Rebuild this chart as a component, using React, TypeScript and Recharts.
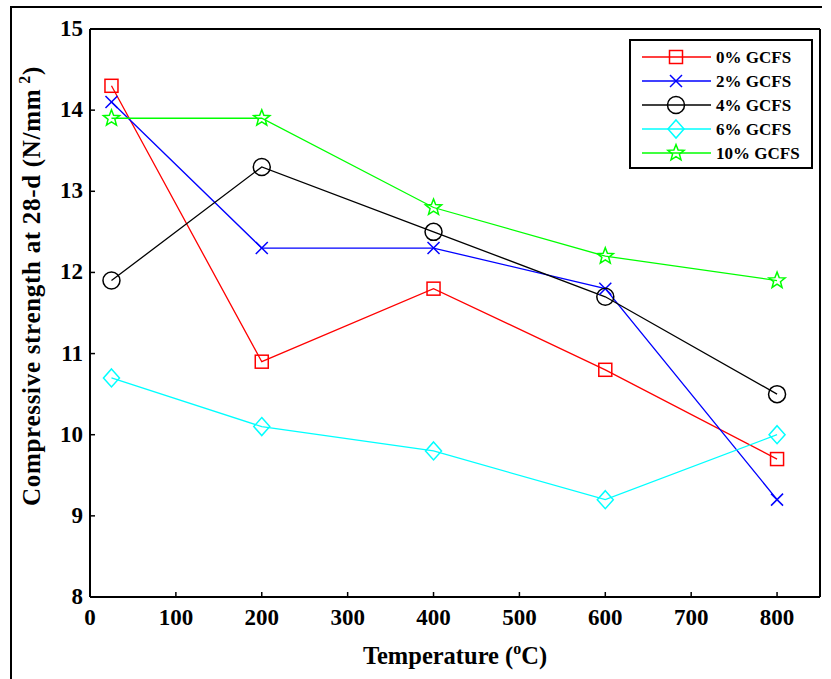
import React from "react";
import {
  LineChart,
  Line,
  XAxis,
  YAxis,
  Legend,
} from "recharts";

const temperatures = [25, 200, 400, 600, 800];
const gcfs0 = [14.3, 10.9, 11.8, 10.8, 9.7];
const gcfs2 = [14.1, 12.3, 12.3, 11.8, 9.2];
const gcfs4 = [11.9, 13.3, 12.5, 11.7, 10.5];
const gcfs6 = [10.7, 10.1, 9.8, 9.2, 10.0];
const gcfs10 = [13.9, 13.9, 12.8, 12.2, 11.9];

const xTicks = [0, 100, 200, 300, 400, 500, 600, 700, 800];
const yTicks = [8, 9, 10, 11, 12, 13, 14, 15];

const FONT = "Liberation Serif";

type MarkerType = "square" | "x" | "circle" | "diamond" | "star";

interface SeriesDef {
  key: string;
  name: string;
  color: string;
  marker: MarkerType;
  values: number[];
}

const SERIES: SeriesDef[] = [
  { key: "s0", name: "0% GCFS", color: "#FF0000", marker: "square", values: gcfs0 },
  { key: "s2", name: "2% GCFS", color: "#0000FF", marker: "x", values: gcfs2 },
  { key: "s4", name: "4% GCFS", color: "#000000", marker: "circle", values: gcfs4 },
  { key: "s6", name: "6% GCFS", color: "#00FFFF", marker: "diamond", values: gcfs6 },
  { key: "s10", name: "10% GCFS", color: "#00FF00", marker: "star", values: gcfs10 },
];

const data = temperatures.map((t, i) => {
  const row: Record<string, number> = { t };
  SERIES.forEach((s) => {
    row[s.key] = s.values[i];
  });
  return row;
});

function starPoints(cx: number, cy: number, ro: number, ri: number) {
  const pts: string[] = [];
  for (let i = 0; i < 10; i++) {
    const r = i % 2 === 0 ? ro : ri;
    const a = -Math.PI / 2 + (i * Math.PI) / 5;
    pts.push(`${cx + r * Math.cos(a)},${cy + r * Math.sin(a)}`);
  }
  return pts.join(" ");
}

function Marker({ type, cx, cy, color }: { type: MarkerType; cx: number; cy: number; color: string }) {
  const common = { stroke: color, fill: "none", strokeWidth: 1.5 };
  switch (type) {
    case "square":
      return <rect x={cx - 6.5} y={cy - 6.5} width={13} height={13} {...common} />;
    case "x":
      return (
        <g {...common}>
          <line x1={cx - 6} y1={cy - 6} x2={cx + 6} y2={cy + 6} />
          <line x1={cx - 6} y1={cy + 6} x2={cx + 6} y2={cy - 6} />
        </g>
      );
    case "circle":
      return <circle cx={cx} cy={cy} r={8.5} {...common} />;
    case "diamond":
      return (
        <polygon
          points={`${cx},${cy - 9} ${cx + 8},${cy} ${cx},${cy + 9} ${cx - 8},${cy}`}
          {...common}
        />
      );
    case "star":
      return <polygon points={starPoints(cx, cy, 8.5, 3.6)} {...common} />;
  }
  return null;
}

const textStyle: React.CSSProperties = { fontFamily: FONT, fontWeight: "bold" };

function LegendBox() {
  return (
    <svg width={184} height={130} style={{ display: "block" }}>
      <rect x={1} y={1} width={182} height={128} fill="#fff" stroke="#000" strokeWidth={2} />
      {SERIES.map((s, i) => {
        const y = 18 + i * 24;
        return (
          <g key={s.key}>
            <line x1={13} y1={y} x2={82} y2={y} stroke={s.color} strokeWidth={1.3} />
            <Marker type={s.marker} cx={47} cy={y} color={s.color} />
            <text x={87} y={y + 6} style={{ ...textStyle, fontSize: 17 }} fill="#000">
              {s.name}
            </text>
          </g>
        );
      })}
    </svg>
  );
}

// x tick label, hanging under the axis
function XTick({ x, y, payload }: any) {
  return (
    <text
      x={x}
      y={y + 16}
      textAnchor="middle"
      style={{ ...textStyle, fontSize: 23 }}
      fill="#000"
    >
      {payload.value}
    </text>
  );
}

function YTick({ x, y, payload }: any) {
  return (
    <text
      x={x}
      y={y + 7}
      textAnchor="end"
      style={{ ...textStyle, fontSize: 23 }}
      fill="#000"
    >
      {payload.value}
    </text>
  );
}

export default function App() {
  return (
    <div
      style={{
        position: "absolute",
        left: 0,
        top: 0,
        width: 831,
        height: 679,
        background: "#fff",
        fontFamily: FONT,
      }}
    >
      <svg
        width={831}
        height={679}
        style={{ position: "absolute", left: 0, top: 0, pointerEvents: "none" }}
      >
        <line x1={11} y1={7} x2={11} y2={679} stroke="#000" strokeWidth={2} />
        <line x1={10} y1={7} x2={822} y2={7} stroke="#000" strokeWidth={2} />
      </svg>
      <div style={{ position: "absolute", left: 0, top: 0 }}>
        <LineChart
          width={831}
          height={679}
          data={data}
          margin={{ top: 28, right: 10, bottom: 42, left: 20 }}
        >
          <XAxis
            dataKey="t"
            type="number"
            domain={[0, 850]}
            ticks={xTicks}
            interval={0}
            height={40}
            tickSize={-5}
            tickMargin={17}
            axisLine={{ stroke: "#000", strokeWidth: 2 }}
            tickLine={{ stroke: "#000", strokeWidth: 1.5 }}
            tick={<XTick />}
            label={{
              content: () => (
                <text
                  x={455}
                  y={664}
                  textAnchor="middle"
                  style={{ ...textStyle, fontSize: 24.5 }}
                  fill="#000"
                >
                  Temperature (
                  <tspan fontSize={16} dy={-10}>o</tspan>
                  <tspan dy={10}>C)</tspan>
                </text>
              ),
            }}
          />
          <XAxis
            xAxisId="top"
            orientation="top"
            type="number"
            domain={[0, 850]}
            ticks={xTicks}
            height={1}
            tickSize={-5}
            tick={false}
            axisLine={{ stroke: "#000", strokeWidth: 2 }}
            tickLine={{ stroke: "#000", strokeWidth: 1.5 }}
          />
          <YAxis
            type="number"
            domain={[8, 15]}
            ticks={yTicks}
            interval={0}
            width={70}
            tickSize={-5}
            tickMargin={12}
            axisLine={{ stroke: "#000", strokeWidth: 2 }}
            tickLine={{ stroke: "#000", strokeWidth: 1.5 }}
            tick={<YTick />}
            label={{
              content: () => (
                <text
                  x={40}
                  y={286}
                  transform="rotate(-90 40 286)"
                  textAnchor="middle"
                  style={{ ...textStyle, fontSize: 25, letterSpacing: 0.7 }}
                  fill="#000"
                >
                  Compressive strength at 28-d (N/mm
                  <tspan fontSize={16} dx={5} dy={-10}>2</tspan>
                  <tspan dy={10}>)</tspan>
                </text>
              ),
            }}
          />
          <YAxis
            yAxisId="right"
            orientation="right"
            type="number"
            domain={[8, 15]}
            ticks={yTicks}
            width={1}
            tickSize={-5}
            tick={false}
            axisLine={{ stroke: "#000", strokeWidth: 2 }}
            tickLine={{ stroke: "#000", strokeWidth: 1.5 }}
          />
          <Legend
            layout="horizontal"
            verticalAlign="middle"
            align="center"
            wrapperStyle={{ position: "absolute", left: 629, top: 39, width: 184, height: 130 }}
            content={() => <LegendBox />}
          />
          {SERIES.map((s) => (
            <Line
              key={s.key}
              dataKey={s.key}
              name={s.name}
              stroke={s.color}
              strokeWidth={1.3}
              isAnimationActive={false}
              dot={(p: any) => (
                <Marker
                  key={`${s.key}-${p.index}`}
                  type={s.marker}
                  cx={p.cx}
                  cy={p.cy}
                  color={s.color}
                />
              )}
              activeDot={false}
            />
          ))}
        </LineChart>
      </div>
    </div>
  );
}
